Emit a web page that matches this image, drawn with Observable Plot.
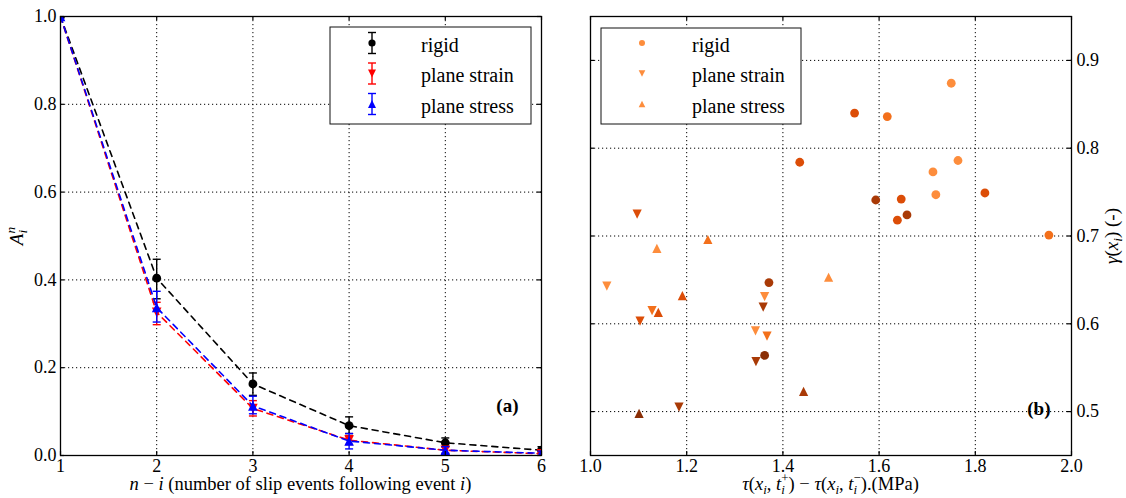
<!DOCTYPE html>
<html><head><meta charset="utf-8">
<script src="https://cdn.jsdelivr.net/npm/d3@7"></script>
<script src="https://cdn.jsdelivr.net/npm/@observablehq/plot@0.6"></script>
<style>
body{margin:0;background:#fff;}
#wrap{display:flex;width:1126px;height:498px;background:#fff;}
#wrap svg{display:block;flex:none;}
</style></head><body><div id="wrap"></div>
<script>
// ---------- Panel (a) data ----------
const steps = [1, 2, 3, 4, 5, 6];
const seriesNames = ["rigid", "plane strain", "plane stress"];
const rigidMean  = [1.0, 0.404, 0.163, 0.068, 0.029, 0.012];
const rigidLow   = [null, 0.357, 0.137, 0.050, 0.020, 0.005];
const rigidHigh  = [null, 0.447, 0.188, 0.088, 0.040, 0.020];
const strainMean = [1.0, 0.326, 0.107, 0.035, 0.012, 0.004];
const strainLow  = [null, 0.298, 0.090, 0.025, 0.005, 0.000];
const strainHigh = [null, 0.349, 0.125, 0.045, 0.020, 0.008];
const stressMean = [1.0, 0.337, 0.113, 0.033, 0.012, 0.005];
const stressLow  = [null, 0.304, 0.095, 0.015, 0.005, 0.000];
const stressHigh = [null, 0.374, 0.135, 0.050, 0.020, 0.010];
const leftXTicks = [1, 2, 3, 4, 5, 6];
const leftYTicks = [0.0, 0.2, 0.4, 0.6, 0.8, 1.0];

// ---------- Panel (b) data ----------
const rigidDrop   = [1.435, 1.750, 1.549, 1.617, 1.764, 1.712, 1.718, 1.820, 1.593, 1.646, 1.658, 1.638, 1.953, 1.371, 1.362];
const rigidGamma  = [0.784, 0.874, 0.840, 0.836, 0.786, 0.773, 0.747, 0.749, 0.741, 0.742, 0.724, 0.718, 0.701, 0.647, 0.564];
const rigidGroup  = [3, 1, 3, 2, 1, 1, 1, 3, 4, 3, 4, 3, 2, 4, 5];
const strainDrop  = [1.097, 1.034, 1.362, 1.359, 1.128, 1.103, 1.343, 1.367, 1.344, 1.184];
const strainGamma = [0.725, 0.643, 0.631, 0.619, 0.615, 0.603, 0.592, 0.586, 0.557, 0.505];
const strainGroup = [3, 1, 1, 4, 2, 3, 1, 2, 4, 4];
const stressDrop  = [1.244, 1.138, 1.191, 1.141, 1.443, 1.101, 1.495];
const stressGamma = [0.696, 0.686, 0.632, 0.613, 0.523, 0.498, 0.653];
const stressGroup = [2, 1, 3, 3, 4, 5, 1];
const rightXTicks = [1.0, 1.2, 1.4, 1.6, 1.8, 2.0];
const rightYTicks = [0.5, 0.6, 0.7, 0.8, 0.9];

// ---------- helpers ----------
const FONT = "'Liberation Serif', 'DejaVu Serif', serif";
const rOf = size => Math.sqrt(size / Math.PI);
const triUp = {draw(ctx, size) { const r = rOf(size); ctx.moveTo(0, -r); ctx.lineTo(r, r); ctx.lineTo(-r, r); ctx.closePath(); }};
const triDown = {draw(ctx, size) { const r = rOf(size); ctx.moveTo(0, r); ctx.lineTo(r, -r); ctx.lineTo(-r, -r); ctx.closePath(); }};
const cap = {draw(ctx, size) { const r = rOf(size); ctx.moveTo(-r, 0); ctx.lineTo(r, 0); }};
const seriesSymbols = [ "circle", triDown, triUp ];

function rich(g, segs, {x, y, anchor = "middle", size = 19, rotate = 0, weight = "normal"}) {
  const t = g.append("text")
    .attr("transform", `translate(${x},${y}) rotate(${rotate})`)
    .attr("text-anchor", anchor).attr("font-size", size)
    .attr("font-family", FONT).attr("font-weight", weight).attr("fill", "black");
  let cur = 0;
  for (const s of segs) {
    const target = s.sub ? 0.2 * size : s.sup ? -0.42 * size : 0;
    const sp = t.append("tspan").text(s.t).attr("dy", target - cur);
    cur = target;
    if (s.sub || s.sup) sp.attr("font-size", size * 0.7);
    if (s.it) sp.attr("font-style", "italic");
    if (s.dx) sp.attr("dx", s.dx);
  }
  return t;
}

function inwardTicks(xt, yt, pw, ph) {
  return [
    Plot.tickX(xt, {x: d => d, insetTop: ph - 4, stroke: "black", strokeWidth: 1.2}),
    Plot.tickX(xt, {x: d => d, insetBottom: ph - 4, stroke: "black", strokeWidth: 1.2}),
    Plot.tickY(yt, {y: d => d, insetRight: pw - 4, stroke: "black", strokeWidth: 1.2}),
    Plot.tickY(yt, {y: d => d, insetLeft: pw - 4, stroke: "black", strokeWidth: 1.2})
  ];
}
const gridStyle = {stroke: "black", strokeOpacity: 1, strokeWidth: 1, strokeDasharray: "1.2,2.8"};

// ---------- Panel (a) ----------
const means = [rigidMean, strainMean, stressMean];
const lows = [rigidLow, strainLow, stressLow];
const highs = [rigidHigh, strainHigh, stressHigh];
const rowsA = seriesNames.map((name, k) => steps.map((s, j) => ({
  series: name, x: s, y: means[k][j], lo: lows[k][j], hi: highs[k][j]
})));

const W = 563, H = 498;
const aML = 60, aMR = 22, MT = 16, MB = 43;
const aPW = W - aML - aMR, PH = H - MT - MB;

const marksA = [
  Plot.gridX(leftXTicks.slice(1, -1), gridStyle),
  Plot.gridY(leftYTicks.slice(1, -1), gridStyle)
];
rowsA.forEach((rows, k) => {
  const err = rows.filter(d => d.lo != null);
  marksA.push(
    Plot.line(rows, {x: "x", y: "y", stroke: "series", strokeWidth: 1.6, strokeDasharray: "6,5", clip: true}),
    Plot.ruleX(err, {x: "x", y1: "lo", y2: "hi", stroke: "series", strokeWidth: 1.4, clip: true}),
    Plot.dot(err, {x: "x", y: "lo", symbol: cap, r: 4, stroke: "series", fill: "none", strokeWidth: 1.4, clip: true}),
    Plot.dot(err, {x: "x", y: "hi", symbol: cap, r: 4, stroke: "series", fill: "none", strokeWidth: 1.4, clip: true}),
    Plot.dot(rows, {x: "x", y: "y", symbol: seriesSymbols[k], r: k === 0 ? 4.4 : 4.8, fill: "series", stroke: "none", clip: true})
  );
});
marksA.push(
  ...inwardTicks(leftXTicks, leftYTicks, aPW, PH),
  Plot.frame({stroke: "black", strokeWidth: 1.3}),
  Plot.axisX(leftXTicks, {tickSize: 0, tickPadding: 4, tickFormat: d => String(d), fontSize: 18, label: null}),
  Plot.axisY(leftYTicks, {tickSize: 0, tickPadding: 4, tickFormat: d3.format(".1f"), fontSize: 18, label: null}),
  Plot.text(["(a)"], {frameAnchor: "bottom-right", dx: -23, dy: -50, lineAnchor: "middle", textAnchor: "end", fontWeight: "bold", fontSize: 19})
);

const svgA = Plot.plot({
  width: W, height: H, marginLeft: aML, marginRight: aMR, marginTop: MT, marginBottom: MB,
  x: {domain: [1, 6]}, y: {domain: [0, 1]},
  color: {domain: seriesNames, range: ["#000000", "#ff0000", "#0000ff"]},
  style: {fontFamily: FONT, fontSize: "18px", background: "white", color: "black", overflow: "visible"},
  marks: marksA
});

// ---------- Panel (b) ----------
const bML = 27, bMR = 55;
const bPW = W - bML - bMR;
const toRows = (xs, ys, gs) => xs.map((x, i) => ({x, y: ys[i], g: gs[i]}));
const rowsRigid = toRows(rigidDrop, rigidGamma, rigidGroup);
const rowsStrain = toRows(strainDrop, strainGamma, strainGroup);
const rowsStress = toRows(stressDrop, stressGamma, stressGroup);

const svgB = Plot.plot({
  width: W, height: H, marginLeft: bML, marginRight: bMR, marginTop: MT, marginBottom: MB,
  x: {domain: [1.0, 2.0]}, y: {domain: [0.45, 0.95]},
  color: {type: "ordinal", domain: [1, 2, 3, 4, 5], range: ["#fd8d3c", "#f3701b", "#dc4d07", "#a93a06", "#8a2e05"]},
  style: {fontFamily: FONT, fontSize: "18px", background: "white", color: "black", overflow: "visible"},
  marks: [
    Plot.gridX(rightXTicks.slice(1, -1), gridStyle),
    Plot.gridY(rightYTicks, gridStyle),
    Plot.dot(rowsRigid, {x: "x", y: "y", fill: "g", r: 4.4, symbol: "circle", stroke: "none"}),
    Plot.dot(rowsStrain, {x: "x", y: "y", fill: "g", r: 4.6, symbol: triDown, stroke: "none"}),
    Plot.dot(rowsStress, {x: "x", y: "y", fill: "g", r: 4.6, symbol: triUp, stroke: "none"}),
    ...inwardTicks(rightXTicks, rightYTicks, bPW, PH),
    Plot.frame({stroke: "black", strokeWidth: 1.3}),
    Plot.axisX(rightXTicks, {tickSize: 0, tickPadding: 4, tickFormat: d3.format(".1f"), fontSize: 18, label: null}),
    Plot.axisY(rightYTicks, {anchor: "right", tickSize: 0, tickPadding: 5, tickFormat: d3.format(".1f"), fontSize: 18, label: null}),
    Plot.text(["(b)"], {frameAnchor: "bottom-right", dx: -21, dy: -47, lineAnchor: "middle", textAnchor: "end", fontWeight: "bold", fontSize: 19})
  ]
});

// ---------- labels & legends ----------
const gA = d3.select(svgA).append("g");
rich(gA, [{t: "n", it: true}, {t: " − "}, {t: "i", it: true}, {t: " (number of slip events following event "}, {t: "i", it: true}, {t: ")"}],
  {x: aML + aPW / 2, y: 490, size: 18.5});
rich(gA, [{t: "A", it: true}, {t: "n", sup: true, it: true}, {t: "i", sub: true, it: true, dx: -6.5}],
  {x: 23, y: 236, rotate: -90});

// legend (a)
const legA = gA.append("g").attr("text-anchor", "start");
legA.append("rect").attr("x", 330).attr("y", 27).attr("width", 201).attr("height", 97)
  .attr("fill", "white").attr("stroke", "#111").attr("stroke-width", 1);
const legColorsA = ["#000000", "#ff0000", "#0000ff"];
seriesNames.forEach((name, k) => {
  const cy = 43 + 30.5 * k, cx = 372;
  legA.append("line").attr("x1", cx).attr("x2", cx).attr("y1", cy - 10.5).attr("y2", cy + 10.5).attr("stroke", legColorsA[k]).attr("stroke-width", 1.4);
  [cy - 10.5, cy + 10.5].forEach(yy => legA.append("line").attr("x1", cx - 4).attr("x2", cx + 4).attr("y1", yy).attr("y2", yy).attr("stroke", legColorsA[k]).attr("stroke-width", 1.4));
  const sym = k === 0 ? d3.symbol(d3.symbolCircle, Math.PI * 3.6 * 3.6) : d3.symbol(k === 1 ? triDown : triUp, Math.PI * 4 * 4);
  legA.append("path").attr("d", sym()).attr("transform", `translate(${cx},${cy})`).attr("fill", legColorsA[k]);
  legA.append("text").attr("x", 421).attr("y", cy + 8.5).attr("text-anchor", "start").attr("font-family", FONT).attr("font-size", 20).attr("fill", "black").text(name);
});

const gB = d3.select(svgB).append("g");
rich(gB, [{t: "τ", it: true}, {t: "("}, {t: "x", it: true}, {t: "i", sub: true, it: true}, {t: ", "}, {t: "t", it: true}, {t: "i", sub: true, it: true}, {t: "+", sup: true, dx: -3.5},
  {t: ") − "}, {t: "τ", it: true}, {t: "("}, {t: "x", it: true}, {t: "i", sub: true, it: true}, {t: ", "}, {t: "t", it: true}, {t: "i", sub: true, it: true}, {t: "−", sup: true, dx: -3.5}, {t: ").(MPa)"}],
  {x: bML + bPW / 2, y: 490, size: 18.5});
rich(gB, [{t: "γ", it: true}, {t: "("}, {t: "x", it: true}, {t: "i", sub: true, it: true}, {t: ") (-)"}],
  {x: 555, y: 236, rotate: -90});

// legend (b)
const legB = gB.append("g").attr("text-anchor", "start");
legB.append("rect").attr("x", 601 - W).attr("y", 28).attr("width", 200).attr("height", 96)
  .attr("fill", "white").attr("stroke", "#111").attr("stroke-width", 1);
seriesNames.forEach((name, k) => {
  const cy = 43 + 30.5 * k, cx = 642 - W;
  const sym = k === 0 ? d3.symbol(d3.symbolCircle, Math.PI * 3 * 3) : d3.symbol(k === 1 ? triDown : triUp, Math.PI * 3.3 * 3.3);
  legB.append("path").attr("d", sym()).attr("transform", `translate(${cx},${cy})`).attr("fill", "#fd8d3c");
  legB.append("text").attr("x", 692 - W).attr("y", cy + 8.5).attr("text-anchor", "start").attr("font-family", FONT).attr("font-size", 20).attr("fill", "black").text(name);
});

const wrap = document.getElementById("wrap");
wrap.append(svgA, svgB);
</script>
</body></html>
